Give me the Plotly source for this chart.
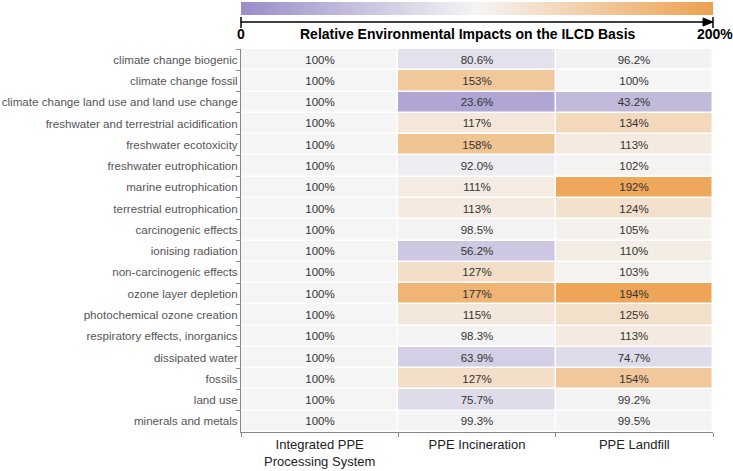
import plotly.graph_objects as go

categories = [
    "climate change biogenic",
    "climate change fossil",
    "climate change land use and land use change",
    "freshwater and terrestrial acidification",
    "freshwater ecotoxicity",
    "freshwater eutrophication",
    "marine eutrophication",
    "terrestrial eutrophication",
    "carcinogenic effects",
    "ionising radiation",
    "non-carcinogenic effects",
    "ozone layer depletion",
    "photochemical ozone creation",
    "respiratory effects, inorganics",
    "dissipated water",
    "fossils",
    "land use",
    "minerals and metals",
]
systems = ["Integrated PPE<br>Processing System", "PPE Incineration", "PPE Landfill"]

integrated = [100] * 18
incineration = [80.6, 153, 23.6, 117, 158, 92.0, 111, 113, 98.5, 56.2, 127, 177, 115, 98.3, 63.9, 127, 75.7, 99.3]
landfill = [96.2, 100, 43.2, 134, 113, 102, 192, 124, 105, 110, 103, 194, 125, 113, 74.7, 154, 99.2, 99.5]


def fmt(v):
    return f"{v:.0f}%" if v >= 100 else f"{v:.1f}%"


z = [[a, b, c] for a, b, c in zip(integrated, incineration, landfill)]
text = [[fmt(v) for v in row] for row in z]

W, H = 733, 471
L, R, T, B = 241, 20, 49, 39
pw, ph = W - L - R, H - T - B

colorscale = [[0.0, "#998dc8"], [0.5, "#f5f5f5"], [1.0, "#eea04e"]]

fig = go.Figure(
    go.Heatmap(
        z=z,
        x=systems,
        y=categories,
        text=text,
        texttemplate="%{text}",
        textfont=dict(size=11.5, color="#333333", family="Liberation Sans, Arial"),
        zmin=0,
        zmax=200,
        colorscale=colorscale,
        xgap=1.5,
        ygap=1.5,
        hoverinfo="skip",
        colorbar=dict(
            orientation="h",
            x=0.5,
            xanchor="center",
            xref="paper",
            y=1 + 34 / ph,
            yanchor="bottom",
            yref="paper",
            lenmode="pixels",
            len=pw,
            thickness=13,
            xpad=0,
            ypad=0,
            outlinewidth=0,
            showticklabels=False,
            ticks="",
        ),
    )
)

py = lambda px: 1 + (T - px) / ph  # pixel-from-top -> paper y
ax_y = py(22)
shapes = [
    dict(type="line", xref="paper", yref="paper", x0=0, x1=1 - 8 / pw, y0=ax_y, y1=ax_y,
         line=dict(color="black", width=1.5)),
    dict(type="line", xref="paper", yref="paper", x0=0, x1=0, y0=py(17), y1=py(28),
         line=dict(color="black", width=1.5)),
    dict(type="line", xref="paper", yref="paper", x0=1, x1=1, y0=py(17), y1=py(28),
         line=dict(color="black", width=1.5)),
    dict(type="path", xref="paper", yref="paper",
         path=f"M {1 - 10 / pw},{py(18)} L 1,{ax_y} L {1 - 10 / pw},{py(26)} Z",
         fillcolor="black", line=dict(color="black", width=1)),
]

annotations = [
    dict(text="<b>0</b>", xref="paper", yref="paper", x=0, y=py(34), xanchor="center",
         yanchor="middle", showarrow=False, font=dict(size=14, color="black")),
    dict(text="<b>200%</b>", xref="paper", yref="paper", x=1 + 2 / pw, y=py(34), xanchor="center",
         yanchor="middle", showarrow=False, font=dict(size=14, color="black")),
    dict(text="<b>Relative Environmental Impacts on the ILCD Basis</b>", xref="paper", yref="paper",
         x=0.48, y=py(34), xanchor="center", yanchor="middle", showarrow=False,
         font=dict(size=14, color="black")),
]

fig.update_layout(
    width=W,
    height=H,
    margin=dict(l=L, r=R, t=T, b=B, autoexpand=False),
    paper_bgcolor="white",
    plot_bgcolor="white",
    font=dict(family="Liberation Sans, Arial", color="#333333"),
    shapes=shapes,
    annotations=annotations,
)
fig.update_xaxes(
    showline=True, linecolor="#888888", linewidth=1,
    ticks="outside", ticklen=4, tickcolor="#888888", tickson="boundaries",
    tickfont=dict(size=13, color="#222222"), showgrid=False, zeroline=False,
    automargin=False,
)
fig.update_yaxes(
    autorange="reversed",
    showline=True, linecolor="#888888", linewidth=1,
    ticks="outside", ticklen=4, tickcolor="#888888", tickson="boundaries",
    tickfont=dict(size=11.6, color="#555555"), showgrid=False, zeroline=False,
    automargin=False,
)

fig.write_html(
    "out.html",
    config={"displayModeBar": False},
    post_script="document.body.style.margin='0';",
)
